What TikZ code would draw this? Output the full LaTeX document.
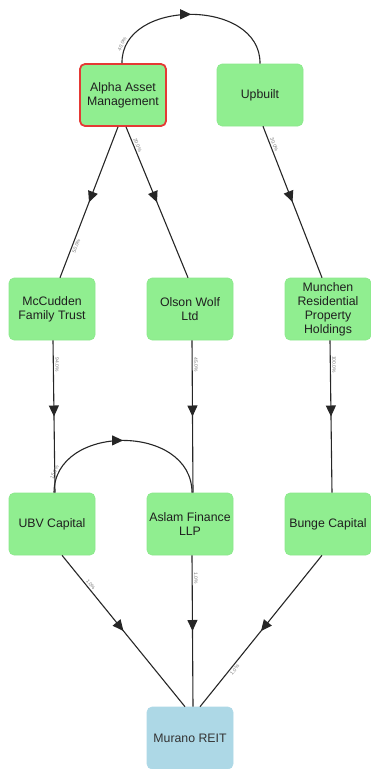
\documentclass[tikz,border=0pt]{standalone}
\usepackage{fontspec}
\setmainfont{Liberation Sans}
\usetikzlibrary{arrows.meta,decorations.markings}
\definecolor{entgreen}{HTML}{90EE90}
\definecolor{entedge}{HTML}{8CE88C}
\definecolor{entblue}{HTML}{ADD8E6}
\definecolor{focusred}{HTML}{E53935}
\definecolor{linkgray}{HTML}{262626}
\definecolor{pctgray}{HTML}{7A7A7A}
\begin{document}
\begin{tikzpicture}[x=1pt,y=-1pt,
  entity/.style={draw=entedge,fill=entgreen,rounded corners=5pt,line width=0.6pt,
    minimum width=86pt,minimum height=62pt,inner sep=1pt,align=center,
    text=black!88,font=\fontsize{12.3}{14}\selectfont},
  focus/.style={entity,draw=focusred,line width=1.8pt},
  target/.style={entity,draw=entblue,fill=entblue,text=black!80},
  link/.style={draw=linkgray,line width=1.1pt,postaction={decorate},
    decoration={markings,mark=at position 0.5 with {\arrow{Triangle[length=11pt,width=10pt]}}}},
  pct/.style={sloped,font=\fontsize{5}{6}\selectfont,text=pctgray,inner sep=1.5pt}]
\useasboundingbox (0,0) rectangle (371,769);

% ownership entities
\node[focus]  (alpha)   at (123,95)  {Alpha Asset\\Management};
\node[entity] (upbuilt) at (260,95)  {Upbuilt};
\node[entity] (mcc)     at (52,309)  {McCudden\\Family Trust};
\node[entity] (olson)   at (190,309) {Olson Wolf\\Ltd};
\node[entity] (munchen) at (328,309) {Munchen\\Residential\\Property\\Holdings};
\node[entity] (ubv)     at (52,524)  {UBV Capital};
\node[entity] (aslam)   at (190,524) {Aslam Finance\\LLP};
\node[entity] (bunge)   at (328,524) {Bunge Capital};
\node[target] (murano)  at (190,738) {Murano REIT};

% holdings
\draw[link] ([xshift=-1pt]alpha.north) .. controls (121,-2) and (261,-2) .. (upbuilt.north)
  node[pct,pos=0.1,above] {40.0\%};
\draw[link] ([xshift=-5pt]alpha.south) -- ([xshift=8pt]mcc.north)
  node[pct,pos=0.78,below] {50.0\%};
\draw[link] ([xshift=3pt]alpha.south) -- ([xshift=-2pt]olson.north)
  node[pct,pos=0.13,above] {20.0\%};
\draw[link] ([xshift=3pt]upbuilt.south) -- ([xshift=-6pt]munchen.north)
  node[pct,pos=0.13,above] {30.0\%};
\draw[link] ([xshift=1pt]mcc.south) -- ([xshift=3pt]ubv.north)
  node[pct,pos=0.16,above] {94.0\%};
\draw[link] ([xshift=2pt]olson.south) -- ([xshift=3pt]aslam.north)
  node[pct,pos=0.16,above] {45.0\%};
\draw[link] ([xshift=2pt]munchen.south) -- ([xshift=4pt]bunge.north)
  node[pct,pos=0.16,above] {100.0\%};
\draw[link] ([xshift=2pt]ubv.north) .. controls (54,423) and (192,423) .. ([xshift=2pt]aslam.north)
  node[pct,pos=0.1,above] {15.0\%};
\draw[link] ([xshift=10pt]ubv.south) -- ([xshift=-5pt]murano.north)
  node[pct,pos=0.21,above] {1.0\%};
\draw[link] ([xshift=2pt]aslam.south) -- ([xshift=3pt]murano.north)
  node[pct,pos=0.15,above] {1.0\%};
\draw[link] ([xshift=-6pt]bunge.south) -- ([xshift=10pt]murano.north)
  node[pct,pos=0.74,below] {1.0\%};
\end{tikzpicture}
\end{document}
